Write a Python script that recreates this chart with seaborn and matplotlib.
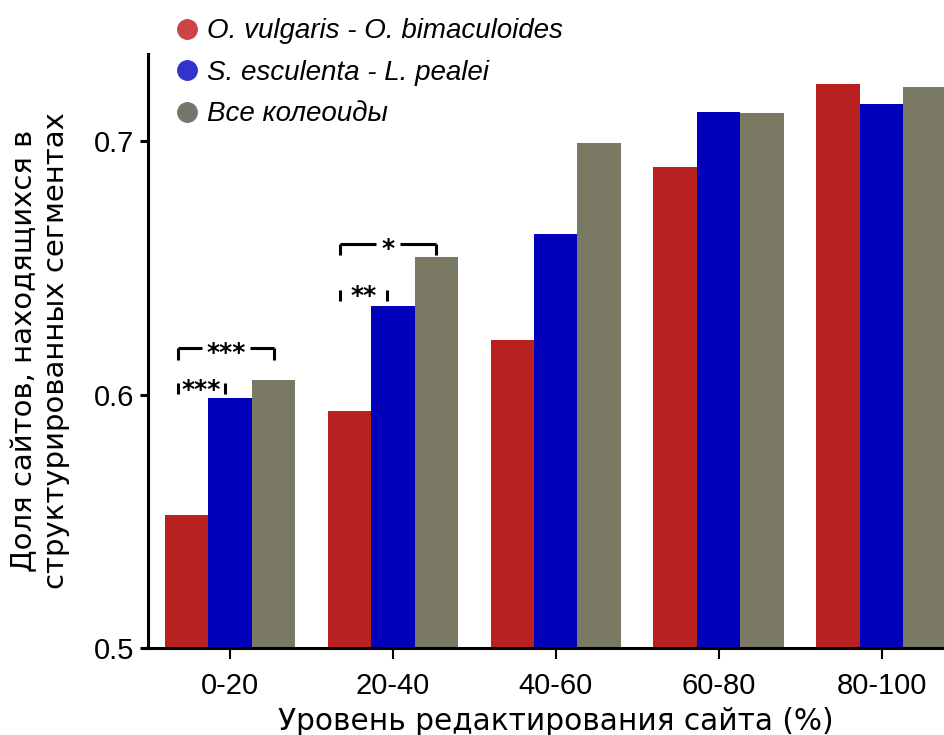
import pandas as pd
import seaborn as sns
import matplotlib.pyplot as plt
from matplotlib.lines import Line2D

# values
categories = ["0-20", "20-40", "40-60", "60-80", "80-100"]
series_names = ["O. vulgaris - O. bimaculoides", "S. esculenta - L. pealei", "Все колеоиды"]
octopus = [0.5525, 0.5935, 0.6215, 0.6897, 0.7225]
squid = [0.5986, 0.635, 0.6633, 0.7114, 0.7146]
all_coleoids = [0.6057, 0.6542, 0.6992, 0.711, 0.7213]

bar_colors = ["#b92020", "#0000bb", "#797964"]
dot_colors = ["#cc4444", "#3333cc", "#76766c"]

# significance brackets: category, left offset, right offset, y top, star centre, label
sig_cat = [0, 0, 1, 1]
sig_x0 = [-0.32, -0.32, -0.325, -0.325]
sig_x1 = [-0.03, 0.27, -0.037, 0.264]
sig_y = [0.6045, 0.6183, 0.6412, 0.6594]
sig_text_y = [0.605, 0.6193, 0.642, 0.6605]
sig_label = ["***", "***", "**", "*"]
sig_full = [False, True, False, True]

df = pd.DataFrame({
    "cat": categories * 3,
    "series": [series_names[0]] * 5 + [series_names[1]] * 5 + [series_names[2]] * 5,
    "value": octopus + squid + all_coleoids,
})

sns.set_style("ticks")
plt.rcParams["font.family"] = ["DejaVu Sans"]
plt.rcParams["text.color"] = "black"
plt.rcParams["axes.labelcolor"] = "black"
plt.rcParams["xtick.color"] = "black"
plt.rcParams["ytick.color"] = "black"

fig = plt.figure(figsize=(9.44, 7.35), dpi=100)
# the axes runs a little past the right edge, as in the cropped original
ax = fig.add_axes([148 / 944, 87 / 735, (963 - 148) / 944, (648 - 54) / 735])

sns.barplot(data=df, x="cat", y="value", hue="series", palette=bar_colors,
            width=0.8, linewidth=0, saturation=1, ax=ax, legend=False)

ax.set_ylim(0.5, 0.5 + (648 - 54) / 2535)
ax.set_xlim(-0.503, 4.5)
ax.set_yticks([0.5, 0.6, 0.7])
ax.set_yticklabels(["0.5", "0.6", "0.7"])
for lab in ax.get_xticklabels() + ax.get_yticklabels():
    lab.set_family("Liberation Sans")
    lab.set_fontsize(21)
ax.tick_params(axis="y", length=6, width=2.2, pad=4)
ax.tick_params(axis="x", length=8, width=1.5, pad=9)

for side in ["top", "right"]:
    ax.spines[side].set_visible(False)
for side in ["left", "bottom"]:
    ax.spines[side].set_linewidth(2.2)
    ax.spines[side].set_color("black")

ax.set_xlabel("Уровень редактирования сайта (%)", fontsize=21.3, labelpad=5)
ax.set_ylabel("Доля сайтов, находящихся в\nструктурированных сегментах", fontsize=21, labelpad=17)

# brackets
tick_h = 0.0045
for c, a, b, y, ty, lab, full in zip(sig_cat, sig_x0, sig_x1, sig_y, sig_text_y, sig_label, sig_full):
    xa, xb = c + a, c + b
    xm = (xa + xb) / 2
    ax.plot([xa, xa], [y - tick_h, y], color="black", lw=2.2, solid_capstyle="butt")
    ax.plot([xb, xb], [y - tick_h, y], color="black", lw=2.2, solid_capstyle="butt")
    if full:
        gap = 0.075 * len(lab) + 0.07
        ax.plot([xa, xm - gap / 2], [y, y], color="black", lw=2.2, solid_capstyle="butt")
        ax.plot([xm + gap / 2, xb], [y, y], color="black", lw=2.2, solid_capstyle="butt")
    # DejaVu asterisk sits ~0.59 em above the baseline
    ax.text(xm, ty - 0.0058, lab, ha="center", va="baseline", fontsize=18,
            fontweight="bold")

handles = [Line2D([], [], marker="o", linestyle="", markersize=14, color=c) for c in dot_colors]
fig.legend(handles, series_names, loc="upper left", bbox_to_anchor=(151 / 944, 1.009),
           frameon=False, handlelength=0.8, handletextpad=0.32, labelspacing=0.56,
           prop={"family": "Liberation Sans", "style": "italic", "size": 20})

fig.savefig("out.png", dpi=100)
